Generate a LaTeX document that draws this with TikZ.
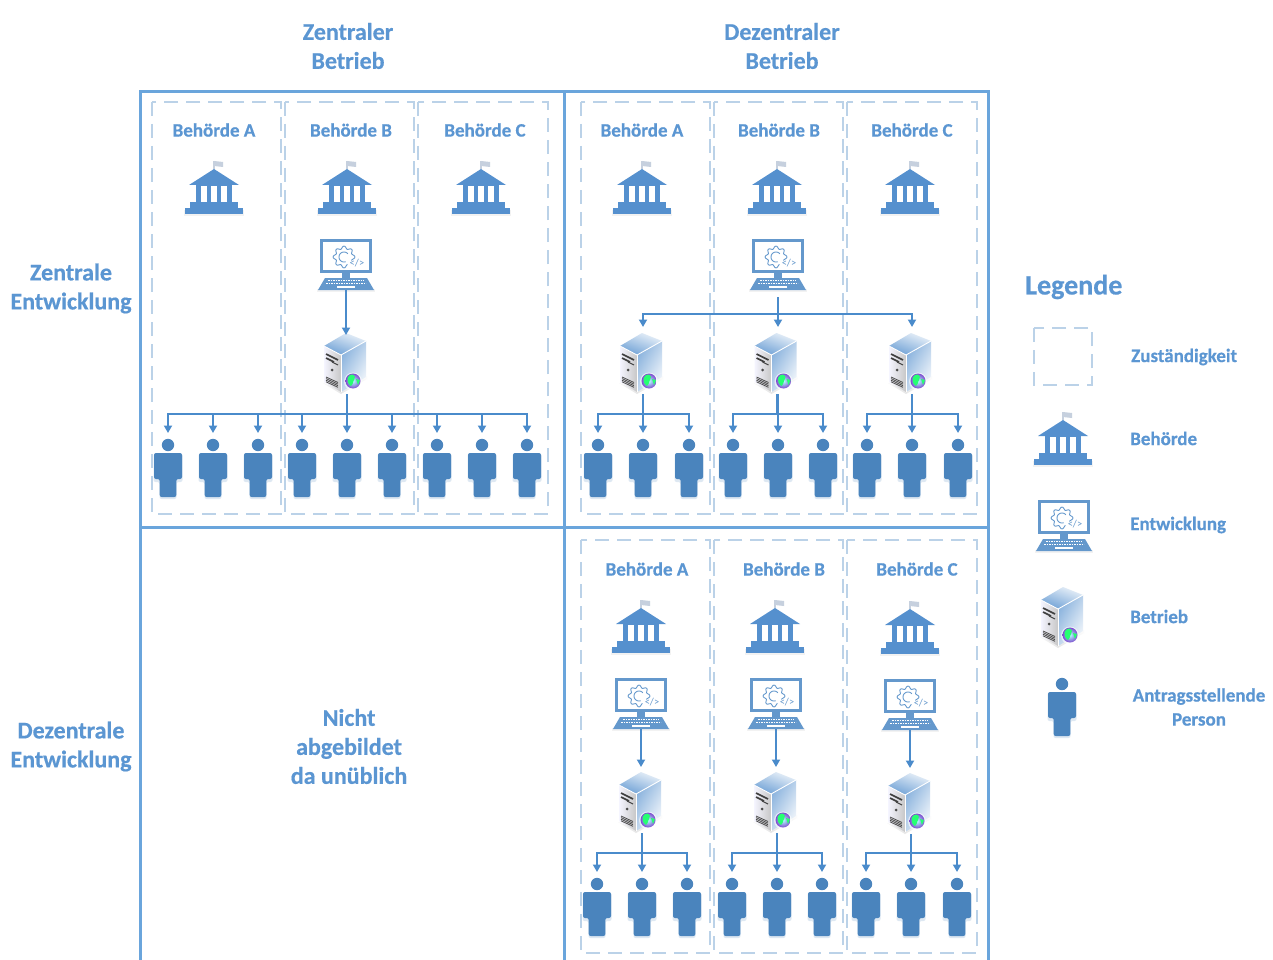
\documentclass[tikz,border=0pt]{standalone}
\usepackage{fontspec}
\setmainfont{Carlito}[BoldFont={Carlito Bold},BoldFeatures={FakeBold=0.5}]
\usetikzlibrary{arrows.meta,calc}
\definecolor{txt}{HTML}{5B96D2}
\definecolor{framec}{HTML}{6AA5DC}
\definecolor{dashc}{HTML}{BBD2E8}
\definecolor{iconc}{HTML}{5590CE}
\definecolor{pcc}{HTML}{6498CC}
\definecolor{personc}{HTML}{4A84BD}
\definecolor{connc}{HTML}{4A8BCB}
\definecolor{flagc}{HTML}{C6D0DE}
\tikzset{
  x=1pt,y=-1pt,
  frameline/.style={draw=framec,line width=3pt},
  zone/.style={draw=dashc,line width=2.8pt,dash pattern=on 14pt off 8pt},
  trunk/.style={draw=connc,line width=2.8pt},
  arr/.style={draw=connc,line width=2pt,-{Triangle[length=7.5pt,width=8pt]}},
  hd/.style={font=\fontsize{24}{29}\selectfont\bfseries,text=txt,align=center,inner sep=0pt},
  tag/.style={font=\fontsize{19}{21}\selectfont\bfseries,text=txt,inner sep=0pt},
  leg/.style={font=\fontsize{19}{24}\selectfont\bfseries,text=txt,inner sep=0pt,align=center},
  bank/.pic={
    \fill[black!20,opacity=.25] (-30,41) rectangle (30,47);
    \fill[flagc] (-.6,-8) rectangle (.6,0);
    \fill[flagc] (0,-8) -- (9,-7) -- (9,-2) -- (0,-3) -- cycle;
    \fill[iconc] (0,0) -- (25,16) -- (-25,16) -- cycle;
    \fill[iconc] (-18,16) rectangle (18,33);
    \fill[white] (-12.7,17) rectangle (-7.3,33);
    \fill[white] (-2.7,17) rectangle (2.7,33);
    \fill[white] (7.3,17) rectangle (12.7,33);
    \fill[iconc] (-24,33) rectangle (24,39);
    \fill[iconc] (-29,39) rectangle (29,45);
  },
  computer/.pic={
    \fill[black!20,opacity=.25] (-29,50) rectangle (29,53);
    \draw[pcc,line width=3pt] (-24.5,1.5) rectangle (24.5,32.5);
    \fill[pcc] (-4,34) rectangle (4,39);
    \fill[pcc] (-21,39) -- (21,39) -- (28,51) -- (-28,51) -- cycle;
    \draw[white,line width=1pt,dash pattern=on 1.6pt off .9pt] (-18,41.5) -- (18,41.5);
    \draw[white,line width=1pt,dash pattern=on 1.6pt off .9pt] (-20,44.5) -- (20,44.5);
    \fill[white] (-9,47) rectangle (9,49);
    \draw[pcc,line width=.9pt,shift={(-2,18)}] plot[domain=65:385,samples=81,smooth] ({\x}:{9.6+1.3*cos(8*\x)});
    \draw[pcc,line width=.9pt,shift={(-2,18)}] plot[domain=70:320,samples=20,smooth] ({\x}:{5});
    \node[inner sep=0pt,text=pcc,font=\fontsize{10.5}{10.5}\selectfont] (-code) at (11,24) {</>};
    \coordinate (-out) at (0,51);
  },
  server/.pic={
    \shade[top color=white,bottom color=black!18,opacity=.55] (-22,50) -- (-4,61) -- (22,46) -- (22,42) -- (-4,57) -- cycle;
    \shade[left color=blue!4!white,right color=black!22!white] (-21,13) -- (-4,22) -- (-4,59) -- (-21,49) -- cycle;
    \shade[left color=iconc!70!white,right color=iconc!8!white,shading angle=60] (-4,22) -- (21,8) -- (21,44) -- (-4,59) -- cycle;
    \shade[top color=iconc!12!white,bottom color=iconc!85!white,shading angle=-20] (-21,13) -- (1,0) -- (21,8) -- (-4,22) -- cycle;
    \draw[white,line width=.9pt] (-21,13) -- (-4,22) -- (21,8);
    \draw[white,line width=.9pt] (-4,22) -- (-4,59);
    \draw[black!75,line width=1.6pt] (-19,21) -- (-7,27);
    \draw[black!75,line width=1.6pt] (-19,25) -- (-11,29);
    \draw[black!75,line width=1.1pt] (-13,29) -- (-7,32);
    \fill[black!70] (-13,37) circle (1.5);
    \foreach \v in {0,1.6,3.2,4.8}{\draw[black!70,line width=.8pt] (-19,44+\v) -- (-7,49.5+\v);}
    \fill[white,opacity=.6] (8,48.5) circle (9);
    \shade[inner color=cyan!30!white,outer color=blue!45!violet!70!white] (8,48) circle (7.5);
    \fill[green!65!cyan!85!white] (2.5,45) .. controls (5,40) and (9,41) .. (10,44) .. controls (8,47) and (9,50) .. (6,53) .. controls (3,51) and (2,48) .. (2.5,45) -- cycle;
    \fill[green!65!cyan!85!white] (11,46) -- (15,47) -- (13,52) -- cycle;
    \coordinate (-in) at (2,-6);
    \coordinate (-inb) at (2,2);
    \coordinate (-inc) at (2,-5);
    \coordinate (-out) at (2,61);
  },
  person/.pic={
    \fill[personc!60,opacity=.3,rounded corners=2pt] (-14.5,9) -- (14.5,9) -- (14.5,37) -- (8.5,37) -- (8.5,54) -- (-8.5,54) -- (-8.5,37) -- (-14.5,37) -- cycle;
    \fill[personc] (0,0) circle (6.2);
    \fill[personc,rounded corners=2pt] (-14,8) -- (14,8) -- (14,22) -- (14,34) -- (8.3,34) -- (8.3,52) -- (-8.3,52) -- (-8.3,34) -- (-14,34) -- cycle;
    \coordinate (-in) at (0,-12);
  },
}
\newcommand{\crowd}[7]{% id, x1,x2,x3, head y, bus y, server
  \coordinate (#1bus) at (#3,#6);
  \pic (#1a) at (#2,#5) {person};
  \pic (#1b) at (#3,#5) {person};
  \pic (#1c) at (#4,#5) {person};
  \draw[trunk] (#7-out) -- (#7-out |- #1bus);
  \draw[arr] (#1bus) -| (#1a-in);
  \draw[arr] (#1bus) -- (#1bus |- #1b-in);
  \draw[arr] (#1bus) -| (#1c-in);
}
\begin{document}
\begin{tikzpicture}
\useasboundingbox (0,0) rectangle (1273,960);
\fill[white] (0,0) rectangle (1273,960);
% zones
\foreach \a/\b in {152/281,285/414,418/548,581/710,714/843,847/977}{\draw[zone] (\a,102) rectangle (\b,514);}
\foreach \a/\b in {581/710,714/843,847/977}{\draw[zone] (\a,540) rectangle (\b,953);}
% matrix frame
\coordinate (mTL) at (140,92);
\coordinate (mTM) at (564,92);
\coordinate (mTR) at (988,92);
\coordinate (mML) at (140,527);
\coordinate (mMR) at (988,527);
\coordinate (mBL) at (140,960);
\coordinate (mBM) at (564,960);
\coordinate (mBR) at (988,960);
\draw[frameline] (mBL) -- (mTL) -- (mTR) -- (mBR);
\draw[frameline] (mTM) -- (mBM);
\draw[frameline] (mML) -- (mMR);
% headings
\node[hd] (h1) at (348,46) {Zentraler\\Betrieb};
\node[hd] (h2) at (782,46) {Dezentraler\\Betrieb};
\node[hd] (h3) at (71,288.5) {Zentrale\\Entwicklung};
\node[hd] (h4) at (71,746.5) {Dezentrale\\Entwicklung};
\node[hd] (h5) at (349,746.5) {Nicht\\abgebildet\\da unüblich};
% authority labels
\foreach \n/\x/\y/\s in {a1/214/130/A,a2/351/130/B,a3/485/130/C,a4/642/130/A,a5/779/130/B,a6/912/130/C,a7/647/569/A,a8/784/569/B,a9/917/569/C}{
  \node[tag] (\n) at (\x,\y) {Behörde \s};}
% authority icons
\foreach \n/\x/\y in {b1/214/169,b2/347/169,b3/481/169,b4/642/169,b5/777/169,b6/910/169,b7/641/608,b8/775/608,b9/910/609,b10/1063/420}{
  \pic (\n) at (\x,\y) {bank};}
% computers
\pic (c1) at (346,239) {computer};
\pic (c2) at (778,239) {computer};
\pic (c3) at (641,678) {computer};
\pic (c4) at (776,678) {computer};
\pic (c5) at (910,679) {computer};
\pic (c6) at (1064,500) {computer};
% servers
\pic (s1) at (345,333) {server};
\pic (s2) at (641,333) {server};
\pic (s3) at (775.5,333) {server};
\pic (s4) at (910,333) {server};
\pic (s5) at (640,772) {server};
\pic (s6) at (775,772) {server};
\pic (s7) at (909,773) {server};
\pic (s8) at (1062,587) {server};
% computers to servers
\draw[arr] (c1-out) -- (c1-out |- s1-inb);
\coordinate (cbus) at (778,314);
\coordinate (cstub) at (778,297);
\draw[trunk] (cstub) -- (cbus);
\draw[arr] (cbus) -| (s2-in);
\draw[arr] (cbus) -- (cbus |- s3-in);
\draw[arr] (cbus) -| (s4-in);
\draw[arr] (c3-out) -- (c3-out |- s5-inc);
\draw[arr] (c4-out) -- (c4-out |- s6-inc);
\draw[arr] (c5-out) -- (c5-out |- s7-inc);
% people
\foreach \n/\x in {d1/168,d2/213,d3/258,d4/302,d5/392,d6/437,d7/482,d8/527}{\pic (\n) at (\x,445) {person};}
\pic (d0) at (347,445) {person};
\coordinate (tlbus) at (347,414);
\draw[trunk] (s1-out) -- (s1-out |- tlbus);
\foreach \n in {d1,d2,d3,d4,d5,d6,d7,d8}{\draw[arr] (tlbus) -| (\n-in);}
\draw[arr] (tlbus) -- (tlbus |- d0-in);
\crowd{e}{598}{643}{689}{445}{414}{s2}
\crowd{f}{733}{778}{823}{445}{414}{s3}
\crowd{g}{867}{912}{958}{445}{414}{s4}
\crowd{i}{597}{642}{687}{884}{853}{s5}
\crowd{j}{732}{777}{822}{884}{853}{s6}
\crowd{k}{866}{911}{957}{884}{853}{s7}
% legend
\node[font=\fontsize{28}{32}\selectfont\bfseries,text=txt,anchor=west,inner sep=0pt] (lt) at (1025,287) {Legende};
\draw[zone] (1034,328) rectangle (1092,385);
\pic (lp) at (1062,684) {person};
\node[leg,anchor=west] (l1) at (1131,357) {Zuständigkeit};
\node[leg,anchor=west] (l2) at (1130,438.5) {Behörde};
\node[leg,anchor=west] (l3) at (1130,525) {Entwicklung};
\node[leg,anchor=west] (l4) at (1130,616.5) {Betrieb};
\node[leg] (l5) at (1199,707) {Antragsstellende\\Person};
\end{tikzpicture}
\end{document}
